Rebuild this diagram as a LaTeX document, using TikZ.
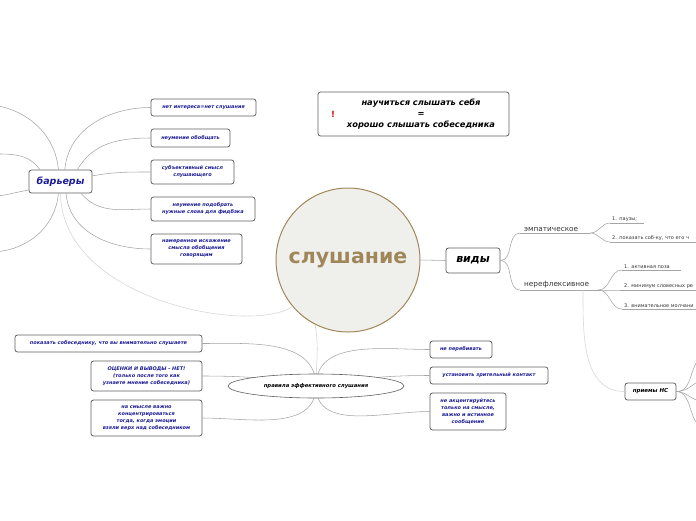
\documentclass[tikz,border=0pt]{standalone}
\usepackage{fontspec}
\setmainfont{DejaVu Sans}
\usetikzlibrary{shapes.geometric}
\definecolor{boxblue}{RGB}{28,28,150}
\definecolor{linkgray}{RGB}{165,165,165}
\definecolor{faintgray}{RGB}{215,215,215}
\definecolor{edgegray}{RGB}{95,95,95}
\definecolor{hubfill}{RGB}{239,239,236}
\definecolor{hubtan}{RGB}{160,135,90}
\begin{document}
\begin{tikzpicture}[x=1pt,y=-1pt,
  box/.style={draw=edgegray,line width=0.8pt,rounded corners=2.5pt,fill=white,
    inner sep=0pt,align=center,text=boxblue,
    font=\fontsize{5}{7}\selectfont\bfseries\itshape},
  leaf/.style={anchor=south west,inner xsep=2pt,inner ysep=1.5pt,align=left,
    font=\fontsize{5}{6}\selectfont,text=black!80},
  link/.style={draw=linkgray,line width=0.55pt},
  faint/.style={draw=faintgray,line width=0.6pt}]
\useasboundingbox (0,0) rectangle (696,520);
\clip (0,0) rectangle (696,520);

% hub
\node[circle,draw=hubtan,line width=1pt,fill=hubfill,minimum size=144pt,
  text=hubtan,font=\fontsize{20.5}{24}\selectfont\bfseries] (sl) at (348,260) {слушание};

% barriers
\node[box,minimum width=63pt,minimum height=23pt,
  font=\fontsize{9.5}{11}\selectfont\bfseries\itshape] (bar) at (60.5,181.5) {барьеры};
\node[box,minimum width=105pt,minimum height=17pt] (b1) at (203.5,107.5) {нет интереса=нет слушания};
\node[box,minimum width=79pt,minimum height=18pt] (b2) at (190.5,138) {неумение обобщать};
\node[box,minimum width=83pt,minimum height=24pt] (b3) at (192.5,172) {субъективный смысл\\слушающего};
\node[box,minimum width=104pt,minimum height=24pt] (b4) at (203,209) {неумение подобрать\\нужные слова для фидбэка};
\node[box,minimum width=91pt,minimum height=30pt] (b5) at (196.5,249) {намеренное искажение\\смысла обобщения\\говорящим};
\coordinate (off1) at (-20,104);
\coordinate (off2) at (-10,154);
\coordinate (off3) at (-10,197);
\coordinate (off4) at (-10,252);
\path[link] (bar.70) to[out=85,in=180] (b1.west);
\path[link] (bar.35) to[out=60,in=180] (b2.west);
\path[link] (bar.10) to[out=10,in=180] (b3.west);
\path[link] (bar.-30) to[out=-50,in=180] (b4.west);
\path[link] (bar.-65) to[out=-85,in=180] (b5.west);
\path[link] (bar.100) to[out=95,in=0] (off1);
\path[link] (bar.150) to[out=125,in=0] (off2);
\path[link] (bar.195) to[out=190,in=5] (off3);
\path[link] (bar.-100) to[out=-95,in=0] (off4);
\path[faint] (bar.-90) .. controls (62,300) and (250,335) .. (sl.220);

% note
\node[draw=edgegray,line width=0.8pt,rounded corners=2.5pt,minimum width=191pt,
  minimum height=44pt,inner sep=0pt] (note) at (413.5,114) {};
\node[text=red!85!black,font=\fontsize{8.5}{11}\selectfont\bfseries] (excl) at (333,114.5) {!};
\node[align=center,inner sep=0pt,font=\fontsize{8.3}{11}\selectfont\bfseries\itshape]
  (notetext) at (421,114) {научиться слышать себя\\=\\хорошо слышать собеседника};

% kinds
\node[box,minimum width=54pt,minimum height=25pt,text=black,
  font=\fontsize{11}{13}\selectfont\bfseries\itshape] (vidy) at (473,260.5) {виды};
\path[link] (sl.east) -- (vidy.west);
\node[leaf,text width=62pt,inner xsep=4pt,font=\fontsize{7.3}{8}\selectfont] (emp) at (520,233) {эмпатическое};
\node[leaf,text width=70pt,inner xsep=4pt,font=\fontsize{7.3}{8}\selectfont] (ner) at (520,290) {нерефлексивное};
\path[link] (emp.south west) -- (emp.south east);
\path[link] (ner.south west) -- (ner.south east);
\path[link] (vidy.east) to[out=0,in=180] (emp.south west);
\path[link] (vidy.east) to[out=0,in=180] (ner.south west);
\node[leaf,text width=30pt] (p1) at (610,223) {1. паузы;};
\node[leaf,text width=110pt] (p2) at (610,242) {2. показать соб-ку, что его ч};
\node[leaf,text width=55pt] (a1) at (622,270) {1. активная поза};
\node[leaf,text width=90pt] (a2) at (622,290) {2. минимум словесных ре};
\node[leaf,text width=90pt] (a3) at (622,309) {3. внимательное молчани};
\foreach \n in {p1,p2,a1,a2,a3}
  \path[link] (\n.south west) -- (\n.south east);
\foreach \n in {p1,p2}
  \path[link] (emp.south east) to[out=0,in=180] (\n.south west);
\foreach \n in {a1,a2,a3}
  \path[link] (ner.south east) to[out=0,in=180] (\n.south west);

% techniques
\node[box,minimum width=51pt,minimum height=17pt,text=black,
  font=\fontsize{5.5}{7}\selectfont\bfseries\itshape] (pr) at (650.5,391.5) {приемы НС};
\coordinate (nerj) at (583,290);
\path[faint] (nerj) to[out=-90,in=180] (pr.west);
\coordinate (pr1) at (705,355);
\coordinate (pr2) at (705,378);
\coordinate (pr3) at (705,400);
\coordinate (pr4) at (705,425);
\foreach \n in {pr1,pr2,pr3,pr4}
  \path[link] (pr.east) to[out=0,in=200] (\n);

% rules
\coordinate (rulehub) at (316,386);
\node[box,minimum width=187pt,minimum height=17pt] (lb1) at (108.5,343.5) {показать собеседнику, что вы внимательно слушаете};
\node[box,minimum width=111pt,minimum height=30pt] (lb2) at (146.5,376) {ОЦЕНКИ И ВЫВОДЫ - НЕТ!\\(только после того как\\узнаете мнение собеседника)};
\node[box,minimum width=111pt,minimum height=36pt] (lb3) at (146.5,418) {на смысле важно\\концентрироваться\\тогда, когда эмоции\\взяли верх над собеседником};
\node[box,minimum width=62pt,minimum height=17pt] (rb1) at (461,349.5) {не перебивать};
\node[box,minimum width=118pt,minimum height=17pt] (rb2) at (489,375.5) {установить зрительный контакт};
\node[box,minimum width=76pt,minimum height=37pt] (rb3) at (468,411.5) {не акцентируйтесь\\только на смысле,\\важно и истинное\\сообщение};
\path[link] (rulehub) to[out=90,in=0] (lb1.east);
\path[link] (rulehub) to[out=170,in=0] (lb2.east);
\path[link] (rulehub) to[out=-90,in=0] (lb3.east);
\path[link] (rulehub) to[out=90,in=180] (rb1.west);
\path[link] (rulehub) to[out=10,in=180] (rb2.west);
\path[link] (rulehub) to[out=-90,in=180] (rb3.west);
\path[faint] (sl.243) to[out=-80,in=90] (rulehub);
\node[ellipse,draw=edgegray,line width=0.6pt,fill=white,minimum width=176pt,
  minimum height=24pt,inner sep=0pt,
  font=\fontsize{5.3}{7}\selectfont\bfseries\itshape] (rule) at (rulehub) {правила эффективного слушания};
\end{tikzpicture}
\end{document}
